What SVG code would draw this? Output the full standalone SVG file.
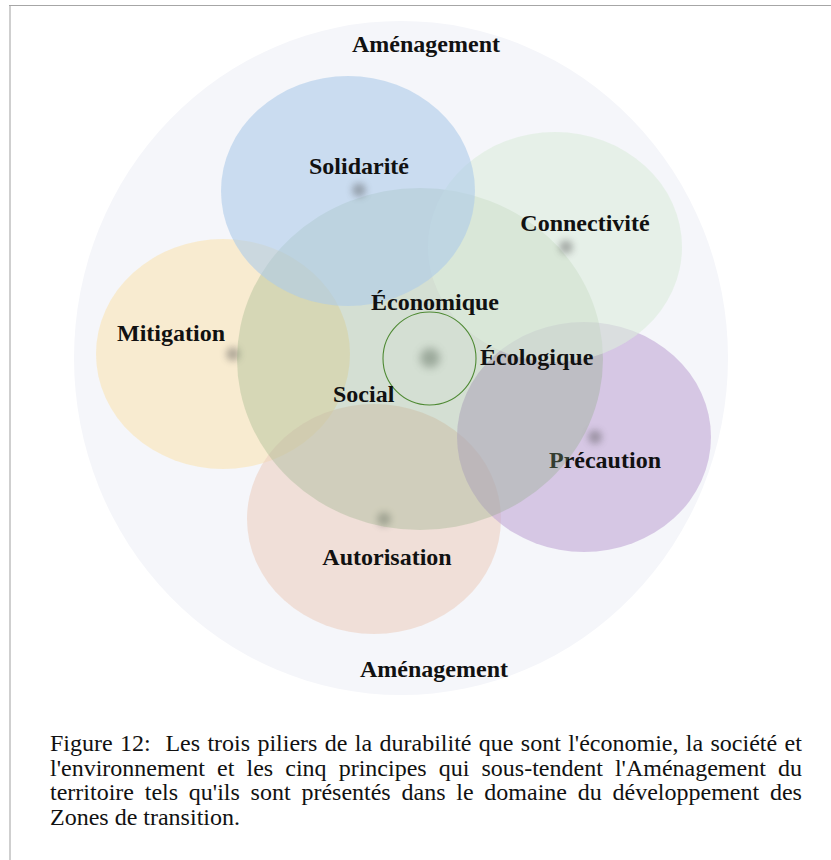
<svg xmlns="http://www.w3.org/2000/svg" width="831" height="860" viewBox="0 0 831 860">
<style>
.lbl{font-family:"Liberation Serif","Times New Roman",serif;font-weight:bold;font-size:24px;fill:#111;}
.cap{font-family:"Liberation Serif","Times New Roman",serif;font-size:24px;fill:#111;}
.p{opacity:0.6;}
.dot{fill:#4a4a4a;opacity:0.4;filter:url(#blur);}
</style>
<defs>
<filter id="blur" x="-100%" y="-100%" width="300%" height="300%"><feGaussianBlur stdDeviation="3.5"/></filter>
<filter id="blur2" x="-100%" y="-100%" width="300%" height="300%"><feGaussianBlur stdDeviation="4.5"/></filter>
</defs>
<rect x="0" y="0" width="831" height="860" fill="#ffffff"/>
<g id="frame">
<line x1="10" y1="5" x2="10" y2="860" stroke="#cfcfcf" stroke-width="2"/>
<line x1="9" y1="5.5" x2="831" y2="5.5" stroke="#a6a6a6" stroke-width="1"/>
</g>
<g id="amenagement">
<ellipse cx="401" cy="358" rx="327" ry="337" fill="#f5f6fa"/>
<text class="lbl" x="426" y="52" text-anchor="middle">Aménagement</text>
<text class="lbl" x="434" y="677" text-anchor="middle">Aménagement</text>
</g>
<g id="mitigation">
<ellipse class="p" cx="223" cy="354" rx="127" ry="115" fill="#fae5b4"/>
<circle class="dot" cx="233" cy="354" r="7"/>
<text class="lbl" x="171" y="341" text-anchor="middle">Mitigation</text>
</g>
<g id="autorisation">
<ellipse class="p" cx="374" cy="519" rx="127" ry="115" fill="#edd1c1"/>
<circle class="dot" cx="384" cy="519" r="7"/>
<text class="lbl" x="387" y="565" text-anchor="middle">Autorisation</text>
</g>
<g id="precaution">
<ellipse class="p" cx="584" cy="437" rx="127" ry="115" fill="#c1a9d5"/>
<circle class="dot" cx="595" cy="437" r="7"/>
<text class="lbl" x="605" y="468" text-anchor="middle">Précaution</text>
</g>
<g id="piliers">
<ellipse cx="420" cy="359" rx="183" ry="171" fill="#87aa7b" opacity="0.3"/>
</g>
<g id="connectivite">
<ellipse class="p" cx="555" cy="247" rx="127" ry="115" fill="#dcecdc"/>
<circle class="dot" cx="566" cy="247" r="7"/>
<text class="lbl" x="585" y="231" text-anchor="middle">Connectivité</text>
</g>
<g id="solidarite">
<ellipse class="p" cx="348" cy="191" rx="127" ry="115" fill="#adcbe9"/>
<circle class="dot" cx="359" cy="190" r="7"/>
<text class="lbl" x="359" y="174" text-anchor="middle">Solidarité</text>
</g>
<g id="durabilite">
<circle cx="429.5" cy="358.5" r="46.5" fill="none" stroke="#4f8a34" stroke-width="1.1"/>
<circle cx="430" cy="358" r="10" fill="#4a5a4a" opacity="0.4" filter="url(#blur2)"/>
<text class="lbl" x="371" y="310">Économique</text>
<text class="lbl" x="480" y="365">Écologique</text>
<text class="lbl" x="333" y="402">Social</text>
</g>
<g id="connectors"></g>
<g id="caption">
<text class="cap" x="50" y="751" xml:space="preserve" style="word-spacing:1.36px">Figure 12:  Les trois piliers de la durabilité que sont l'économie, la société et</text>
<text class="cap" x="50" y="775.5" style="word-spacing:6.1px">l'environnement et les cinq principes qui sous-tendent l'Aménagement du</text>
<text class="cap" x="50" y="800" style="word-spacing:4.78px">territoire tels qu'ils sont présentés dans le domaine du développement des</text>
<text class="cap" x="50" y="824.5">Zones de transition.</text>
</g>
</svg>
